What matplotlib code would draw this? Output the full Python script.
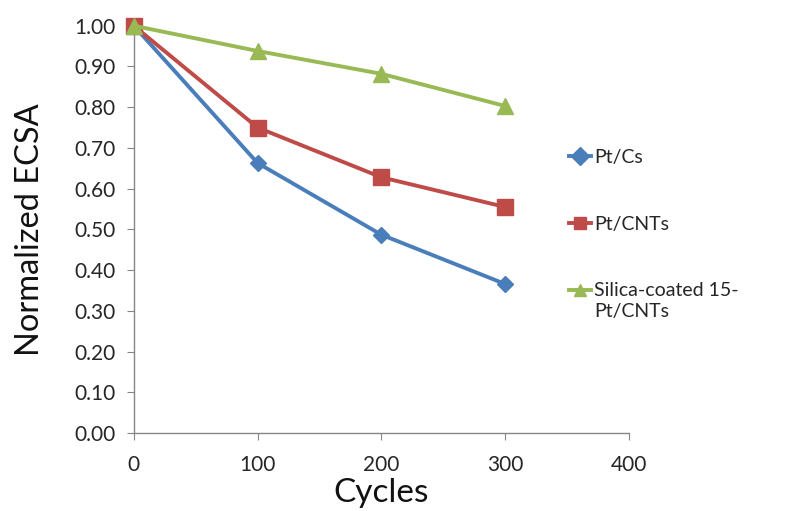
import matplotlib.pyplot as plt

plt.rcParams['font.family'] = ['Lato', 'DejaVu Sans']

cycles = [0, 100, 200, 300]
pt_cs = [1.00, 0.663, 0.487, 0.366]
pt_cnts = [1.00, 0.750, 0.628, 0.555]
silica = [1.00, 0.938, 0.882, 0.803]

fig = plt.figure(figsize=(7.87, 5.11), dpi=100)
ax = fig.add_axes([0.170, 0.1526, 0.629, 0.797])

ax.plot(cycles, pt_cs, color='#4A7EBB', lw=2.8, marker='D', ms=8,
        label='Pt/Cs', clip_on=False, zorder=3)
ax.plot(cycles, pt_cnts, color='#BE4B48', lw=2.8, marker='s', ms=12,
        label='Pt/CNTs', clip_on=False, zorder=3)
ax.plot(cycles, silica, color='#98B954', lw=2.8, marker='^', ms=12,
        label='Silica-coated 15-', clip_on=False, zorder=3)

ax.set_xlim(0, 400)
ax.set_ylim(0, 1.0)
ax.set_xticks([0, 100, 200, 300, 400])
ax.set_yticks([i / 10 for i in range(11)])
ax.set_yticklabels([f'{i / 10:.2f}' for i in range(11)])

for s in ['top', 'right']:
    ax.spines[s].set_visible(False)
for s in ['left', 'bottom']:
    ax.spines[s].set_color('#868686')
    ax.spines[s].set_linewidth(1.0)
ax.tick_params(axis='both', colors='#868686', labelcolor='#262626',
               labelsize=15, length=5, direction='out')
ax.tick_params(axis='y', pad=8)
ax.tick_params(axis='x', pad=11)

ax.set_xlabel('Cycles', fontsize=24, color='#111111', labelpad=2)
ax.set_ylabel('Normalized ECSA', fontsize=23.5, color='#111111')
ax.yaxis.set_label_coords(-0.18, 0.5)

leg = ax.legend(loc='upper left', bbox_to_anchor=(0.879, 0.697), frameon=False,
                fontsize=14, labelspacing=2.55, handlelength=1.15,
                handletextpad=0.15, borderaxespad=0, borderpad=0)
for h in leg.legend_handles:
    h.set_markersize(9)
for t in leg.get_texts():
    t.set_color('#262626')

# second line of the last legend label, set just under its first line
fig.canvas.draw()
last = leg.get_texts()[2].get_window_extent()
fig.text(last.x0, last.y0 - 4, 'Pt/CNTs', fontsize=14, color='#262626',
         ha='left', va='top', transform=None)

fig.savefig('out.png', dpi=100)
